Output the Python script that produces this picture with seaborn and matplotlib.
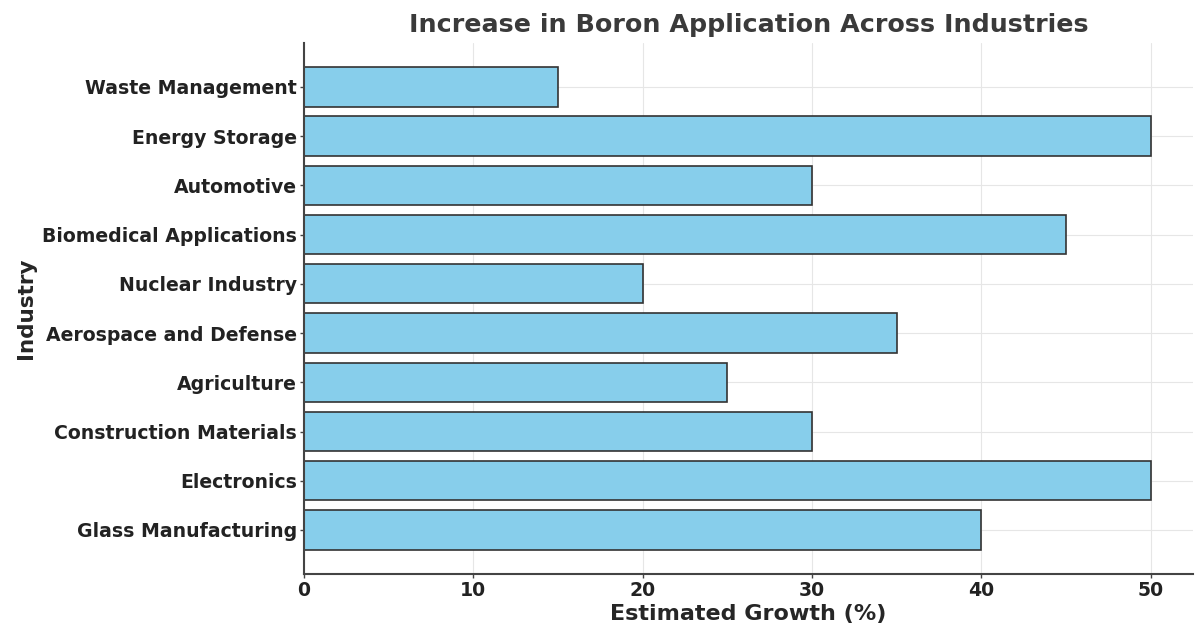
import matplotlib
matplotlib.use("Agg")
import matplotlib.pyplot as plt
import seaborn as sns
import pandas as pd

industries = [
    "Glass Manufacturing",
    "Electronics",
    "Construction Materials",
    "Agriculture",
    "Aerospace and Defense",
    "Nuclear Industry",
    "Biomedical Applications",
    "Automotive",
    "Energy Storage",
    "Waste Management",
]
growth = [40, 50, 30, 25, 35, 20, 45, 30, 50, 15]

sns.set_theme(style="whitegrid")
plt.rcParams["font.family"] = ["DejaVu Sans"]

df = pd.DataFrame({"Industry": industries, "Growth": growth})
# top-to-bottom drawing order: last industry on top
order = industries[::-1]

fig = plt.figure(figsize=(11.96, 6.28), dpi=100)
ax = fig.add_axes([0.254, 0.0863, 0.7435, 0.8452])

sns.barplot(data=df, y="Industry", x="Growth", order=order, orient="h",
            color="skyblue", edgecolor="#333333", linewidth=1.2,
            width=0.8, saturation=1, ax=ax)

ax.set_ylim(len(order) - 1 + 0.89, -0.89)
ax.set_xlim(0, 52.5)
ax.set_xticks([0, 10, 20, 30, 40, 50])

ax.grid(True, color="#e6e6e6", linewidth=0.8)
ax.set_axisbelow(True)
ax.set_facecolor("white")

for side in ["top", "right"]:
    ax.spines[side].set_visible(False)
for side in ["left", "bottom"]:
    ax.spines[side].set_visible(True)
    ax.spines[side].set_color("#444444")
    ax.spines[side].set_linewidth(1.5)

ax.tick_params(axis="both", which="both", length=3, width=1, pad=2,
               color="#444444", labelsize=13.6, labelcolor="#222222",
               left=True, bottom=True)
for lbl in ax.get_xticklabels() + ax.get_yticklabels():
    lbl.set_fontweight("bold")

ax.set_xlabel("Estimated Growth (%)", fontsize=16, fontweight="bold",
              color="#262626", labelpad=3)
ax.set_ylabel("Industry", fontsize=15.5, fontweight="bold", color="#262626")
ax.set_title("Increase in Boron Application Across Industries",
             fontsize=18.3, fontweight="bold", color="#3a3a3a", pad=8)

fig.savefig("out.png", dpi=100)
